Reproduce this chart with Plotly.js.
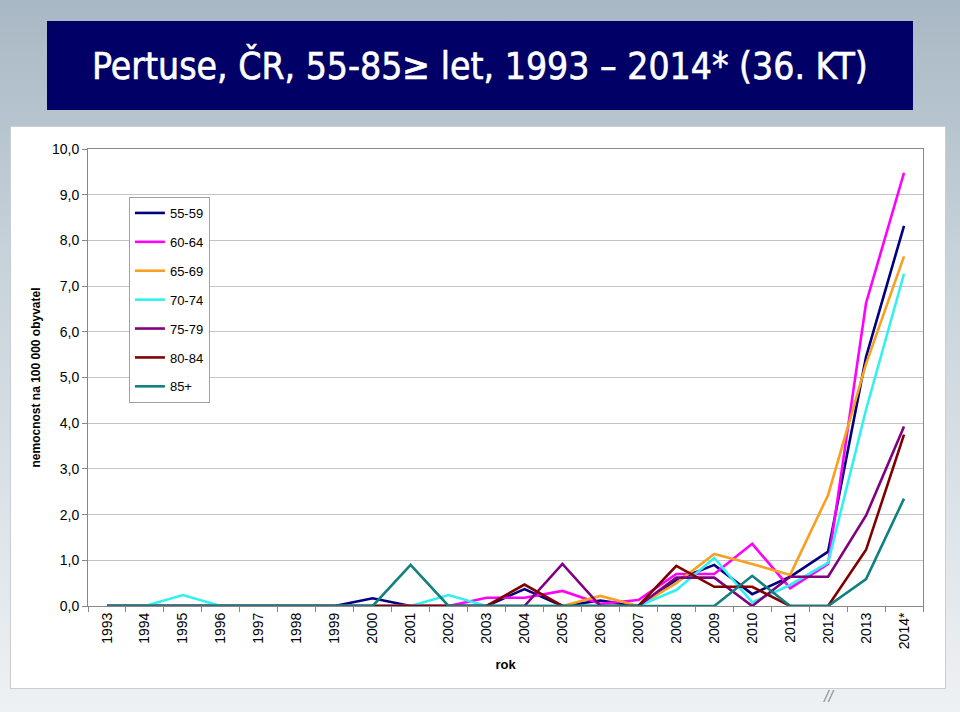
<!DOCTYPE html>
<html>
<head>
<meta charset="utf-8">
<script src="https://cdn.plot.ly/plotly-3.0.1.min.js"></script>
<style>
    html, body { margin: 0; padding: 0; }
    body {
        width: 960px; height: 712px; position: relative; overflow: hidden;
        background: linear-gradient(#a8b8c4 0%, #c6d1d9 35%, #e2e7eb 80%, #eef1f3 100%);
    }
    #title-bar {
        position: absolute; left: 47px; top: 21px; width: 866px; height: 89px;
        background: #000066; color: #fff;
        font-family: 'DejaVu Sans Condensed', 'DejaVu Sans', sans-serif;
        font-size: 37px; line-height: 92px; text-align: center; white-space: nowrap;
        -webkit-text-stroke: 0.6px #fff;
    }
    #chart-box {
        position: absolute; left: 10px; top: 126px; width: 934px; height: 561px;
        background: #fff; border: 1px solid #c9ced3;
    }
    #mark {
        position: absolute; left: 824px; top: 688px; color: #8a9096;
        font-family: 'Liberation Sans', sans-serif; font-size: 16px; font-style: italic;
    }
    #chart { position: absolute; left: 0; top: 0; width: 960px; height: 712px; }
</style>
</head>
<body>
<div id="title-bar">Pertuse, ČR, 55-85≥ let, 1993 – 2014* (36. KT)</div>
<div id="chart-box"></div>
<div id="mark">//</div>
<div id="chart"></div>
<script>
// roky (2014 = předběžná data)
const years = ['1993', '1994', '1995', '1996', '1997', '1998', '1999', '2000', '2001', '2002', '2003',
               '2004', '2005', '2006', '2007', '2008', '2009', '2010', '2011', '2012', '2013', '2014*'];

// nemocnost na 100 000 obyvatel podle věkových skupin
const age55_59 = [0, 0, 0, 0, 0, 0, 0, 0.17, 0, 0, 0, 0.37, 0, 0.12, 0, 0.57, 0.90, 0.26, 0.64, 1.19, 5.45, 8.32];
const age60_64 = [0, 0, 0, 0, 0, 0, 0, 0, 0, 0, 0.18, 0.18, 0.33, 0.05, 0.13, 0.70, 0.70, 1.36, 0.39, 0.92, 6.63, 9.48];
const age65_69 = [0, 0, 0, 0, 0, 0, 0, 0, 0, 0, 0, 0, 0, 0.22, 0, 0.50, 1.14, 0.92, 0.68, 2.43, 5.30, 7.65];
const age70_74 = [0, 0, 0.24, 0, 0, 0, 0, 0, 0, 0.24, 0, 0, 0, 0, 0, 0.35, 1.05, 0.08, 0.46, 0.95, 4.30, 7.27];
const age75_79 = [0, 0, 0, 0, 0, 0, 0, 0, 0, 0, 0, 0, 0.92, 0, 0, 0.62, 0.62, 0, 0.64, 0.64, 1.98, 3.93];
const age80_84 = [0, 0, 0, 0, 0, 0, 0, 0, 0, 0, 0, 0.47, 0, 0, 0, 0.88, 0.42, 0.42, 0, 0, 1.23, 3.75];
const age85plus = [0, 0, 0, 0, 0, 0, 0, 0, 0.90, 0, 0, 0, 0, 0, 0, 0, 0, 0.66, 0, 0, 0.59, 2.35];

const seriesNames = ['55-59', '60-64', '65-69', '70-74', '75-79', '80-84', '85+'];
const seriesValues = [age55_59, age60_64, age65_69, age70_74, age75_79, age80_84, age85plus];
const seriesColors = ['#000080', '#ff00ff', '#f7a021', '#33f0f0', '#800080', '#800000', '#108080'];

const traces = seriesNames.map((name, i) => ({
    name: name,
    x: years,
    y: seriesValues[i],
    type: 'scatter',
    mode: 'lines',
    legendgroup: name,
    line: { color: seriesColors[i], width: 2.6 },
    hovertemplate: '<b>' + name + '</b><br>%{x}: %{y:.2f}<extra></extra>'
}));

const baseFont = { family: 'Liberation Sans, Arial, sans-serif', size: 14, color: '#000' };

const layout = {
    width: 960,
    height: 712,
    font: baseFont,
    separators: ',.',
    paper_bgcolor: 'rgba(0,0,0,0)',
    plot_bgcolor: '#fff',
    margin: { l: 88, r: 37, t: 149, b: 106 },
    showlegend: true,
    legend: {
        x: 0.049, y: 0.895, xanchor: 'left', yanchor: 'top',
        bgcolor: '#fff', bordercolor: '#a0a0a0', borderwidth: 1,
        font: { family: baseFont.family, size: 13, color: '#000' },
        traceorder: 'grouped', tracegroupgap: 9
    },
    xaxis: {
        type: 'category',
        range: [-0.5, years.length - 0.5],
        tickangle: -90,
        ticks: 'outside', tickson: 'boundaries', ticklen: 5, tickcolor: '#888',
        showline: true, linecolor: '#888', linewidth: 1, mirror: true,
        showgrid: false, zeroline: false,
        tickfont: { family: baseFont.family, size: 14 },
        title: { text: '<b>rok</b>', standoff: 11, font: { family: baseFont.family, size: 13 } }
    },
    yaxis: {
        range: [0, 10], dtick: 1, tickformat: '.1f',
        ticks: 'outside', ticklen: 5, tickcolor: '#888',
        showline: true, linecolor: '#888', linewidth: 1, mirror: true,
        gridcolor: '#c4c4c4', zeroline: false,
        tickfont: { family: baseFont.family, size: 14 },
        title: { text: '<b>nemocnost na 100 000 obyvatel</b>', standoff: 8,
                 font: { family: baseFont.family, size: 12 } }
    }
};

Plotly.newPlot('chart', traces, layout, { displayModeBar: false, responsive: false });
</script>
</body>
</html>
